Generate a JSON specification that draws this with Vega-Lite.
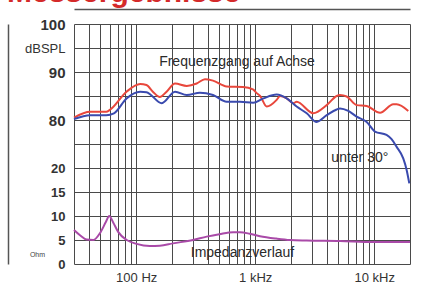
{
  "$schema": "https://vega.github.io/schema/vega-lite/v6.json",
  "width": 336,
  "height": 240,
  "autosize": "none",
  "padding": {"left": 74, "top": 24, "right": 24, "bottom": 24},
  "background": "white",
  "title": {"text": "Messergebnisse", "anchor": "start", "frame": "group", "color": "#d42a2a", "fontSize": 30, "font": "Liberation Sans", "fontWeight": "bold", "dx": -67, "dy": 23, "offset": 0, "baseline": "alphabetic"},
  "config": {"view": {"stroke": null}},
  "datasets": {
    "spl": [
      {"f": 30, "db": 80.5, "s": "Achse"}, {"f": 41, "db": 81.7, "s": "Achse"}, {"f": 56, "db": 81.7, "s": "Achse"}, {"f": 60, "db": 82.1, "s": "Achse"},
      {"f": 83, "db": 85.9, "s": "Achse"}, {"f": 108, "db": 87.5, "s": "Achse"}, {"f": 122, "db": 87.3, "s": "Achse"}, {"f": 138, "db": 85.9, "s": "Achse"},
      {"f": 158, "db": 84.8, "s": "Achse"}, {"f": 180, "db": 85.9, "s": "Achse"}, {"f": 212, "db": 87.6, "s": "Achse"}, {"f": 266, "db": 87.1, "s": "Achse"},
      {"f": 322, "db": 87.6, "s": "Achse"}, {"f": 378, "db": 88.5, "s": "Achse"}, {"f": 442, "db": 88.2, "s": "Achse"}, {"f": 576, "db": 87.0, "s": "Achse"},
      {"f": 790, "db": 86.9, "s": "Achse"}, {"f": 958, "db": 86.4, "s": "Achse"}, {"f": 1030, "db": 85.6, "s": "Achse"}, {"f": 1100, "db": 85.0, "s": "Achse"},
      {"f": 1250, "db": 82.8, "s": "Achse"}, {"f": 1515, "db": 84.2, "s": "Achse"}, {"f": 1615, "db": 85.0, "s": "Achse"}, {"f": 1840, "db": 84.5, "s": "Achse"},
      {"f": 2090, "db": 83.5, "s": "Achse"}, {"f": 2230, "db": 83.8, "s": "Achse"}, {"f": 3075, "db": 81.4, "s": "Achse"}, {"f": 3990, "db": 83.1, "s": "Achse"},
      {"f": 4840, "db": 85.0, "s": "Achse"}, {"f": 5160, "db": 85.2, "s": "Achse"}, {"f": 5870, "db": 84.9, "s": "Achse"}, {"f": 7120, "db": 83.1, "s": "Achse"},
      {"f": 8650, "db": 82.9, "s": "Achse"}, {"f": 11200, "db": 81.5, "s": "Achse"}, {"f": 14470, "db": 83.3, "s": "Achse"}, {"f": 15450, "db": 83.3, "s": "Achse"},
      {"f": 19340, "db": 81.9, "s": "Achse"},
      {"f": 30, "db": 80.2, "s": "30°"}, {"f": 41, "db": 81.0, "s": "30°"}, {"f": 56, "db": 81.0, "s": "30°"}, {"f": 65, "db": 81.4, "s": "30°"},
      {"f": 83, "db": 84.5, "s": "30°"}, {"f": 108, "db": 85.9, "s": "30°"}, {"f": 122, "db": 85.8, "s": "30°"}, {"f": 164, "db": 83.5, "s": "30°"},
      {"f": 212, "db": 85.9, "s": "30°"}, {"f": 266, "db": 85.2, "s": "30°"}, {"f": 343, "db": 85.7, "s": "30°"}, {"f": 442, "db": 85.2, "s": "30°"},
      {"f": 576, "db": 83.8, "s": "30°"}, {"f": 745, "db": 83.8, "s": "30°"}, {"f": 960, "db": 83.6, "s": "30°"}, {"f": 1170, "db": 84.5, "s": "30°"},
      {"f": 1515, "db": 85.3, "s": "30°"}, {"f": 1840, "db": 84.5, "s": "30°"}, {"f": 2230, "db": 82.8, "s": "30°"}, {"f": 2710, "db": 81.4, "s": "30°"},
      {"f": 3285, "db": 79.6, "s": "30°"}, {"f": 3990, "db": 81.0, "s": "30°"}, {"f": 4840, "db": 82.2, "s": "30°"}, {"f": 5160, "db": 82.4, "s": "30°"},
      {"f": 6060, "db": 81.9, "s": "30°"}, {"f": 7120, "db": 80.7, "s": "30°"}, {"f": 8650, "db": 79.6, "s": "30°"}, {"f": 10150, "db": 77.6, "s": "30°"},
      {"f": 12700, "db": 76.9, "s": "30°"}, {"f": 14000, "db": 76.0, "s": "30°"}, {"f": 15450, "db": 74.4, "s": "30°"}, {"f": 17550, "db": 72.0, "s": "30°"},
      {"f": 18740, "db": 69.6, "s": "30°"}, {"f": 19730, "db": 66.8, "s": "30°"}
    ],
    "imp": [
      {"f": 30, "ohm": 7.1}, {"f": 33.7, "ohm": 6.0}, {"f": 38.3, "ohm": 5.1}, {"f": 43.6, "ohm": 5.0}, {"f": 49.5, "ohm": 6.4},
      {"f": 55.7, "ohm": 8.8}, {"f": 59.3, "ohm": 10.0}, {"f": 64.2, "ohm": 8.6}, {"f": 70.5, "ohm": 6.7}, {"f": 83.2, "ohm": 5.0},
      {"f": 100.6, "ohm": 4.2}, {"f": 130, "ohm": 3.75}, {"f": 158, "ohm": 3.8}, {"f": 204, "ohm": 4.3}, {"f": 300, "ohm": 5.0},
      {"f": 391, "ohm": 5.7}, {"f": 500, "ohm": 6.2}, {"f": 654, "ohm": 6.6}, {"f": 745, "ohm": 6.6}, {"f": 900, "ohm": 6.3},
      {"f": 1097, "ohm": 5.8}, {"f": 1500, "ohm": 5.3}, {"f": 1960, "ohm": 5.0}, {"f": 2707, "ohm": 4.9}, {"f": 5156, "ohm": 4.8},
      {"f": 9800, "ohm": 4.6}, {"f": 20000, "ohm": 4.6}
    ],
    "spltext": [
      {"f": 703, "db": 92.1, "t": "Frequenzgang auf Achse"},
      {"f": 7577, "db": 72.1, "t": "unter 30°"}
    ],
    "imptext": [
      {"f": 782, "ohm": 2.35, "t": "Impedanzverlauf"}
    ]
  },
  "encoding": {
    "x": {
      "field": "f", "type": "quantitative",
      "scale": {"type": "log", "domain": [30, 20000], "nice": false},
      "axis": {
        "title": null,
        "values": [30, 40, 50, 60, 70, 80, 90, 100, 200, 300, 400, 500, 600, 700, 800, 900, 1000, 2000, 3000, 4000, 5000, 6000, 7000, 8000, 9000, 10000, 20000],
        "labelExpr": "datum.value == 100 ? '100 Hz' : datum.value == 1000 ? '1 kHz' : datum.value == 10000 ? '10 kHz' : ''",
        "ticks": false, "tickSize": 0, "domain": false,
        "grid": true, "gridColor": "#4a4a4a", "gridOpacity": 1, "gridWidth": 1,
        "labelFont": "Liberation Sans", "labelFontSize": 13, "labelColor": "#333",
        "labelPadding": 7, "labelOverlap": false, "labelFlush": false
      }
    }
  },
  "layer": [
    {
      "encoding": {
        "y": {
          "field": "db", "type": "quantitative",
          "scale": {"domain": [50, 100], "nice": false, "zero": false},
          "axis": {
            "title": null,
            "values": [50, 55, 60, 65, 70, 75, 80, 85, 90, 95, 100],
            "labelExpr": "datum.value == 100 ? '100' : datum.value == 95 ? 'dBSPL' : datum.value == 90 ? '90' : datum.value == 80 ? '80' : datum.value == 70 ? '20' : datum.value == 65 ? '15' : datum.value == 60 ? '10' : datum.value == 55 ? '5' : datum.value == 50 ? '0' : ''",
            "ticks": false, "tickSize": 0, "domain": false,
            "grid": true, "gridColor": "#4a4a4a", "gridOpacity": 1, "gridWidth": 1,
            "labelFont": "Liberation Sans", "labelColor": "#333",
            "labelFontSize": {"condition": {"test": "datum.value >= 80 && datum.value != 95", "value": 15}, "value": 13},
            "labelFontWeight": {"condition": {"test": "datum.value == 95", "value": "normal"}, "value": "bold"},
            "labelPadding": 9, "labelOverlap": false, "labelFlush": false
          }
        }
      },
      "layer": [
        {
          "data": {"name": "spl"},
          "mark": {"type": "line", "strokeWidth": 2, "interpolate": "monotone"},
          "encoding": {
            "color": {"field": "s", "type": "nominal", "scale": {"domain": ["Achse", "30°"], "range": ["#e8473c", "#3a4aae"]}, "legend": null}
          }
        },
        {
          "data": {"name": "spltext"},
          "mark": {"type": "text", "font": "Liberation Sans", "fontSize": 14, "color": "#2a2a2a", "align": "center", "baseline": "middle"},
          "encoding": {"text": {"field": "t"}}
        }
      ]
    },
    {
      "encoding": {
        "x": {
          "field": "f", "type": "quantitative",
          "scale": {"type": "log", "domain": [30, 20000], "nice": false},
          "axis": {
            "orient": "top", "offset": 15, "title": null,
            "domain": true, "domainColor": "#555", "domainWidth": 1.5,
            "grid": false, "labels": false, "ticks": false
          }
        },
        "y": {
          "field": "ohm", "type": "quantitative",
          "scale": {"domain": [0, 50], "nice": false, "zero": false},
          "axis": {
            "orient": "left", "offset": 66,
            "domain": true, "domainColor": "#555", "domainWidth": 1.5,
            "grid": false, "labels": false, "ticks": false,
            "title": "Ohm", "titleAngle": 0, "titleFontSize": 7, "titleFontWeight": "normal", "titleColor": "#444",
            "titleFont": "Liberation Sans", "titleAlign": "center", "titleBaseline": "middle",
            "titleX": 29, "titleY": 230
          }
        }
      },
      "layer": [
        {
          "data": {"name": "imp"},
          "mark": {"type": "line", "strokeWidth": 2, "color": "#a94aa8", "interpolate": "monotone"}
        },
        {
          "data": {"name": "imptext"},
          "mark": {"type": "text", "font": "Liberation Sans", "fontSize": 14, "color": "#2a2a2a", "align": "center", "baseline": "middle"},
          "encoding": {"text": {"field": "t"}}
        }
      ]
    }
  ],
  "resolve": {"scale": {"y": "independent"}, "axis": {"x": "independent"}}
}
